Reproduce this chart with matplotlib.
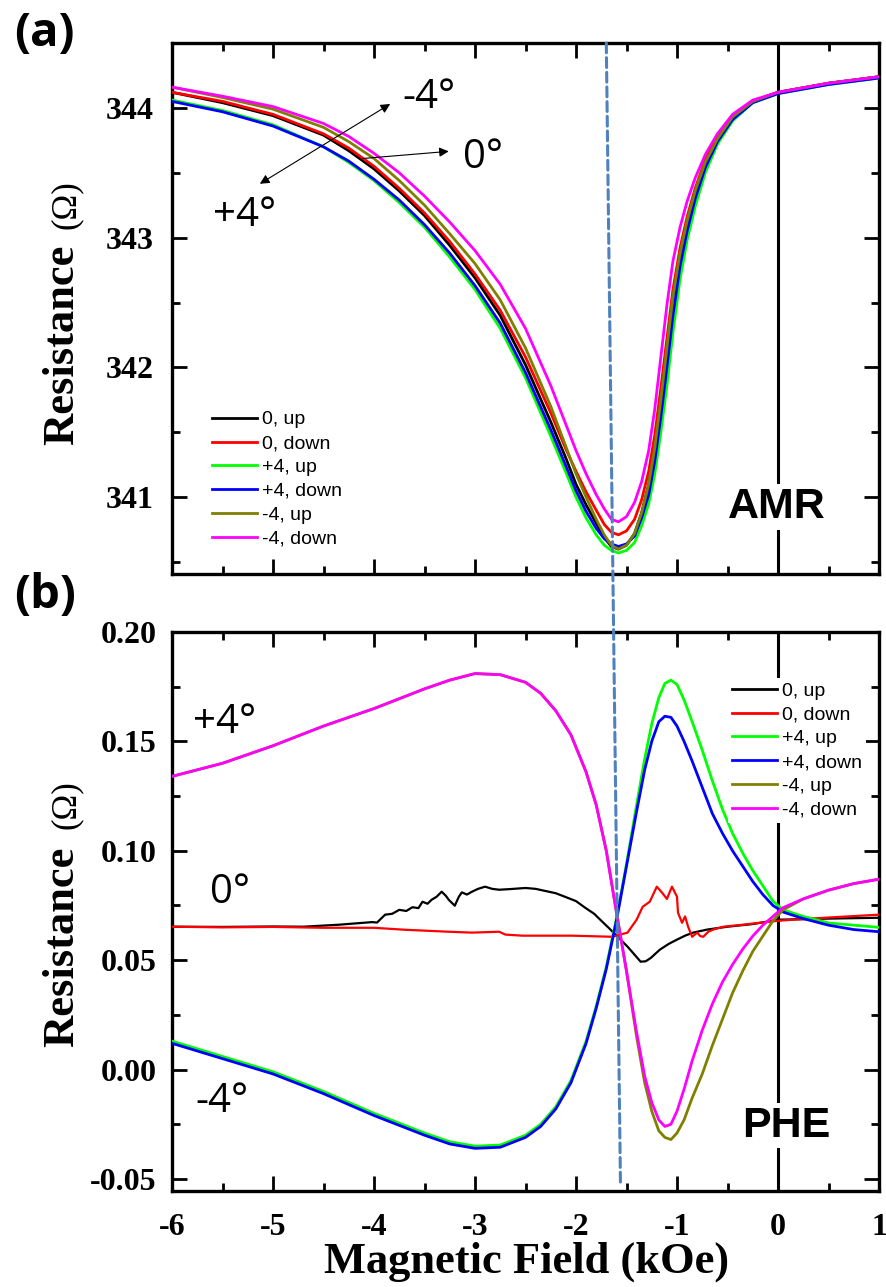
import matplotlib
matplotlib.use("Agg")
import matplotlib.pyplot as plt
from matplotlib.patches import ConnectionPatch
from matplotlib.ticker import MultipleLocator

# ---------------- data ----------------
SERIES_LABELS = ["0, up", "0, down", "+4, up", "+4, down", "-4, up", "-4, down"]
SERIES_COLORS = ["#000000", "#FF0000", "#00FF00", "#0000FF", "#808000", "#FF00FF"]

# (a) AMR
AMR_FIELD = [-6, -5.5, -5, -4.5, -4.25, -4, -3.75, -3.5, -3.25, -3, -2.75, -2.5, -2.25, -2.1,
             -2.0, -1.9, -1.8, -1.72, -1.65, -1.58, -1.5, -1.42, -1.35, -1.28, -1.22, -1.16,
             -1.1, -1.04, -0.97, -0.9, -0.82, -0.72, -0.6, -0.45, -0.25, 0, 0.5, 1]
AMR_0_UP = [344.12, 344.04, 343.94, 343.79, 343.67, 343.53, 343.36, 343.17, 342.94, 342.69,
            342.40, 342.02, 341.58, 341.30, 341.10, 340.94, 340.80, 340.69, 340.62, 340.60,
            340.63, 340.72, 340.88, 341.10, 341.38, 341.75, 342.15, 342.55, 342.88, 343.13,
            343.36, 343.58, 343.76, 343.93, 344.05, 344.12, 344.19, 344.24]
AMR_0_DOWN = [344.12, 344.05, 343.95, 343.80, 343.69, 343.55, 343.38, 343.19, 342.97, 342.72,
              342.44, 342.08, 341.65, 341.37, 341.20, 341.04, 340.90, 340.79, 340.73, 340.71,
              340.74, 340.83, 340.98, 341.20, 341.48, 341.84, 342.22, 342.60, 342.92, 343.16,
              343.38, 343.60, 343.78, 343.94, 344.05, 344.12, 344.19, 344.24]
AMR_P4_UP = [344.06, 343.98, 343.87, 343.70, 343.58, 343.44, 343.27, 343.08, 342.85, 342.60,
             342.30, 341.92, 341.47, 341.19, 341.00, 340.84, 340.71, 340.63, 340.59, 340.57,
             340.59, 340.65, 340.78, 340.95, 341.18, 341.50, 341.86, 342.27, 342.68, 342.98,
             343.24, 343.50, 343.72, 343.90, 344.04, 344.11, 344.18, 344.23]
AMR_P4_DOWN = [344.05, 343.97, 343.86, 343.70, 343.59, 343.45, 343.29, 343.10, 342.88, 342.63,
               342.34, 341.96, 341.52, 341.24, 341.05, 340.89, 340.76, 340.68, 340.64, 340.62,
               340.64, 340.70, 340.84, 341.02, 341.28, 341.62, 342.00, 342.40, 342.78, 343.05,
               343.30, 343.54, 343.74, 343.91, 344.04, 344.11, 344.18, 344.23]
AMR_M4_UP = [344.16, 344.08, 343.99, 343.85, 343.74, 343.61, 343.44, 343.25, 343.03, 342.80,
             342.52, 342.15, 341.70, 341.39, 341.18, 341.00, 340.83, 340.71, 340.63, 340.60,
             340.63, 340.72, 340.88, 341.10, 341.38, 341.75, 342.15, 342.55, 342.88, 343.13,
             343.36, 343.58, 343.76, 343.93, 344.05, 344.12, 344.19, 344.24]
AMR_M4_DOWN = [344.16, 344.09, 344.01, 343.88, 343.78, 343.65, 343.50, 343.32, 343.12, 342.90,
               342.64, 342.30, 341.86, 341.56, 341.36, 341.18, 341.02, 340.91, 340.83, 340.81,
               340.85, 340.96, 341.12, 341.36, 341.68, 342.08, 342.48, 342.82, 343.08, 343.28,
               343.46, 343.64, 343.80, 343.95, 344.06, 344.12, 344.19, 344.24]

# (b) PHE
PHE_FIELD = [-6, -5.5, -5, -4.5, -4, -3.5, -3.25, -3, -2.75, -2.5, -2.35, -2.2, -2.05, -1.9,
             -1.8, -1.7, -1.6, -1.5, -1.4, -1.32, -1.25, -1.18, -1.12, -1.06, -1.0, -0.93,
             -0.85, -0.75, -0.65, -0.55, -0.45, -0.35, -0.25, -0.15, -0.05, 0.05, 0.25, 0.5,
             0.75, 1.0]
PHE_P4_UP = [0.013, 0.006, -0.001, -0.010, -0.020, -0.029, -0.033, -0.035, -0.0345, -0.030,
             -0.025, -0.017, -0.005, 0.013, 0.029, 0.047, 0.069, 0.094, 0.121, 0.142, 0.158,
             0.170, 0.1765, 0.178, 0.176, 0.169, 0.159, 0.146, 0.132, 0.119, 0.108, 0.099,
             0.091, 0.084, 0.077, 0.073, 0.070, 0.067, 0.066, 0.065]
PHE_P4_DOWN = [0.012, 0.005, -0.002, -0.011, -0.021, -0.030, -0.034, -0.036, -0.0355, -0.031,
               -0.026, -0.018, -0.006, 0.012, 0.028, 0.046, 0.068, 0.093, 0.118, 0.137, 0.150,
               0.159, 0.1615, 0.161, 0.157, 0.150, 0.141, 0.129, 0.117, 0.108, 0.100, 0.093,
               0.086, 0.080, 0.075, 0.072, 0.069, 0.066, 0.064, 0.063]
PHE_M4_UP = [0.134, 0.140, 0.148, 0.157, 0.165, 0.174, 0.178, 0.181, 0.1805, 0.177, 0.172,
             0.164, 0.153, 0.136, 0.121, 0.100, 0.072, 0.045, 0.015, -0.006, -0.019, -0.028,
             -0.031, -0.032, -0.029, -0.023, -0.013, -0.002, 0.011, 0.023, 0.035, 0.045,
             0.054, 0.061, 0.068, 0.073, 0.078, 0.082, 0.085, 0.087]
PHE_M4_DOWN = [0.134, 0.140, 0.148, 0.157, 0.165, 0.174, 0.178, 0.181, 0.1805, 0.177, 0.172,
               0.164, 0.153, 0.136, 0.121, 0.100, 0.072, 0.045, 0.017, -0.003, -0.015, -0.023,
               -0.026, -0.025, -0.019, -0.009, 0.004, 0.018, 0.030, 0.040, 0.048, 0.055,
               0.061, 0.066, 0.070, 0.074, 0.078, 0.082, 0.085, 0.087]

PHE_0_UP_FIELD = [-6, -5.5, -5, -4.7, -4.35, -4.02, -3.97, -3.89, -3.82, -3.75, -3.68, -3.62,
                  -3.56, -3.52, -3.47, -3.43, -3.38, -3.33, -3.29, -3.26, -3.2, -3.16, -3.13,
                  -3.08, -3.03, -2.97, -2.90, -2.83, -2.76, -2.65, -2.50, -2.40, -2.31, -2.20,
                  -2.11, -2.0, -1.91, -1.82, -1.74, -1.67, -1.61, -1.55, -1.49, -1.42, -1.36,
                  -1.31, -1.26, -1.17, -1.08, -1.0, -0.92, -0.84, -0.7, -0.5, -0.25, 0, 0.5, 1.0]
PHE_0_UP = [0.0653, 0.0652, 0.0654, 0.0653, 0.0662, 0.0674, 0.0672, 0.0708, 0.0712, 0.0730,
            0.0725, 0.0742, 0.0738, 0.0767, 0.0758, 0.0776, 0.0790, 0.0813, 0.0795, 0.0776,
            0.0749, 0.0790, 0.0810, 0.0800, 0.0813, 0.0826, 0.0836, 0.0826, 0.0822, 0.0825,
            0.0830, 0.0826, 0.0817, 0.0806, 0.0790, 0.0770, 0.0740, 0.0712, 0.0676, 0.0645,
            0.0617, 0.0590, 0.0562, 0.0525, 0.0493, 0.0495, 0.0510, 0.0548, 0.0575, 0.0594,
            0.0612, 0.0626, 0.0640, 0.0653, 0.0665, 0.0685, 0.0690, 0.0694]
PHE_0_DOWN_FIELD = [-6, -5.5, -5, -4.5, -4.0, -3.69, -3.26, -3.03, -2.76, -2.70, -2.53, -2.37,
                    -2.04, -1.80, -1.64, -1.56, -1.49, -1.40, -1.34, -1.27, -1.20, -1.15,
                    -1.10, -1.05, -1.0, -0.99, -0.95, -0.92, -0.89, -0.85, -0.80, -0.77,
                    -0.74, -0.69, -0.64, -0.54, -0.35, -0.18, 0, 0.15, 0.5, 1.0]
PHE_0_DOWN = [0.0653, 0.0650, 0.0652, 0.0648, 0.0648, 0.0639, 0.0630, 0.0626, 0.0630, 0.0617,
              0.0612, 0.0612, 0.0612, 0.0609, 0.0607, 0.0617, 0.0626, 0.0685, 0.0744, 0.0767,
              0.0836, 0.0810, 0.0780, 0.0836, 0.0790, 0.0717, 0.0671, 0.0700, 0.0653, 0.0607,
              0.0626, 0.0610, 0.0607, 0.0630, 0.0640, 0.0653, 0.0662, 0.0671, 0.0680, 0.0685,
              0.0695, 0.0708]

X_TICKS = [-6, -5, -4, -3, -2, -1, 0, 1]
AMR_TICKS = [341, 342, 343, 344]
PHE_TICKS = [-0.05, 0.00, 0.05, 0.10, 0.15, 0.20]

# ---------------- figure ----------------
W, H = 886, 1287
fig = plt.figure(figsize=(W / 100, H / 100), dpi=100)


def fx(px):
    return px / W


def fy(py):
    return 1 - py / H


ax1 = fig.add_axes([fx(172), fy(574), fx(879) - fx(172), fy(43) - fy(574)])
ax2 = fig.add_axes([fx(172), fy(1191), fx(879) - fx(172), fy(632) - fy(1191)])

SERIF = "Liberation Serif"
SANS = "Liberation Sans"
OPEN = "Open Sans"
LW = 2.0

amr_sets = [AMR_0_UP, AMR_0_DOWN, AMR_P4_UP, AMR_P4_DOWN, AMR_M4_UP, AMR_M4_DOWN]
for ys, c, lab in zip(amr_sets, SERIES_COLORS, SERIES_LABELS):
    ax1.plot(AMR_FIELD, ys, color=c, lw=LW, label=lab, zorder=3)

phe_sets = [(PHE_0_UP_FIELD, PHE_0_UP), (PHE_0_DOWN_FIELD, PHE_0_DOWN),
            (PHE_FIELD, PHE_P4_UP), (PHE_FIELD, PHE_P4_DOWN),
            (PHE_FIELD, PHE_M4_UP), (PHE_FIELD, PHE_M4_DOWN)]
for (xs, ys), c, lab in zip(phe_sets, SERIES_COLORS, SERIES_LABELS):
    lw = 1.6 if xs is not PHE_FIELD else LW
    ax2.plot(xs, ys, color=c, lw=lw, label=lab, zorder=3)

ax1.set_xlim(-6, 1)
ax1.set_ylim(340.408, 344.5)
ax2.set_xlim(-6, 1)
ax2.set_ylim(-0.0555, 0.20)

for ax in (ax1, ax2):
    ax.axvline(0, color="black", lw=2.2, zorder=2)
    ax.xaxis.set_major_locator(MultipleLocator(1))
    ax.xaxis.set_minor_locator(MultipleLocator(0.5))
    ax.tick_params(which="both", direction="in", top=True, right=True, width=2.0)
    ax.tick_params(which="major", length=11)
    ax.tick_params(which="minor", length=6)
    for sp in ax.spines.values():
        sp.set_linewidth(2.4)

ax1.yaxis.set_major_locator(MultipleLocator(1))
ax1.yaxis.set_minor_locator(MultipleLocator(0.5))
ax1.set_yticks(AMR_TICKS)
ax1.set_yticklabels([str(t) for t in AMR_TICKS], fontfamily=SERIF, fontweight="bold",
                    fontsize=23)
ax1.tick_params(axis="y", pad=13)
ax1.tick_params(axis="x", labelbottom=False)

ax2.yaxis.set_minor_locator(MultipleLocator(0.025))
ax2.set_yticks(PHE_TICKS)
ax2.set_yticklabels([f"{t:.2f}" for t in PHE_TICKS], fontfamily=SERIF, fontweight="bold",
                    fontsize=23)
ax2.set_xticks(X_TICKS)
ax2.set_xticklabels([str(t) for t in X_TICKS], fontfamily=SERIF, fontweight="bold",
                    fontsize=23)
ax2.tick_params(axis="y", pad=11)
ax2.tick_params(axis="x", pad=16)

# axis labels
fig.text(fx(527), fy(1262), "Magnetic Field (kOe)", fontfamily=SERIF, fontweight="bold",
         fontsize=32, ha="center", va="center")
for yc_word, yc_unit in ((345, 205), (947, 805)):
    fig.text(fx(62), fy(yc_word), "Resistance", fontfamily=SERIF, fontweight="bold",
             fontsize=32, rotation=90, ha="center", va="center")
    fig.text(fx(66), fy(yc_unit), "(\u03a9)", fontfamily=SERIF, fontsize=25,
             rotation=90, ha="center", va="center")

# panel labels
fig.text(fx(14), fy(10), "(a)", fontfamily=OPEN, fontweight="bold", fontsize=34,
         ha="left", va="top")
fig.text(fx(14), fy(572), "(b)", fontfamily=OPEN, fontweight="bold", fontsize=34,
         ha="left", va="top")

# annotations (a)
ann_kw = dict(fontfamily=OPEN, fontsize=29, ha="left", va="baseline", zorder=5)
ax1.text(-3.72, 344.0, "-4\u00b0", **ann_kw)
ax1.text(-3.12, 343.54, "0\u00b0", **ann_kw)
ax1.text(-5.59, 343.09, "+4\u00b0", **ann_kw)
ax1.annotate("", xy=(-3.84, 344.03), xytext=(-5.13, 343.415),
             arrowprops=dict(arrowstyle="<|-|>", lw=0.8, color="black", mutation_scale=14,
                             shrinkA=0, shrinkB=0), zorder=5)
ax1.annotate("", xy=(-3.26, 343.665), xytext=(-4.11, 343.61),
             arrowprops=dict(arrowstyle="-|>", lw=0.8, color="black", mutation_scale=14,
                             shrinkA=0, shrinkB=0), zorder=5)

# annotations (b)
ax2.text(-5.79, 0.1539, "+4\u00b0", **ann_kw)
ax2.text(-5.62, 0.0763, "0\u00b0", **ann_kw)
ax2.text(-5.77, -0.0196, "-4\u00b0", **ann_kw)

box_kw = dict(facecolor="white", edgecolor="none", pad=2)
ax1.text(-0.495, 340.84, "AMR", fontfamily=SANS, fontweight="bold", fontsize=31,
         ha="left", va="baseline", bbox=box_kw, zorder=4)
ax2.text(-0.356, -0.0306, "PHE", fontfamily=SANS, fontweight="bold", fontsize=31,
         ha="left", va="baseline", bbox=box_kw, zorder=4)

# legends
leg_kw = dict(prop={"family": SANS, "size": 14}, handlelength=2.33, handletextpad=0.26,
              labelspacing=0.32, borderpad=0.2, borderaxespad=0, frameon=True,
              facecolor="white", edgecolor="none", framealpha=1, fancybox=False,
              loc="upper left", bbox_transform=fig.transFigure)
leg1 = ax1.legend(bbox_to_anchor=(fx(208), fy(407)), **leg_kw)
leg2 = ax2.legend(bbox_to_anchor=(fx(728), fy(678)), **leg_kw)
for leg in (leg1, leg2):
    leg.set_zorder(6)
    for ln in leg.get_lines():
        ln.set_linewidth(2.0)

# slanted dashed guide line spanning both panels
con = ConnectionPatch(xyA=(-1.70, 344.5), coordsA=ax1.transData,
                      xyB=(-1.56, -0.0516), coordsB=ax2.transData,
                      color="#4F81BD", lw=2.2, linestyle=(0, (3.2, 1.6)), zorder=10)
fig.add_artist(con)

fig.savefig("out.png", dpi=100)
